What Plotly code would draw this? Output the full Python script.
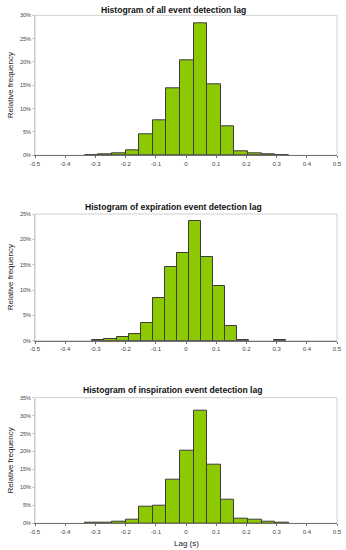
import plotly.graph_objects as go

# ---- data ----
titles = ["Histogram of all event detection lag",
          "Histogram of expiration event detection lag",
          "Histogram of inspiration event detection lag"]

all_lag = [-0.3125, -0.2675, -0.2225, -0.1775, -0.1325, -0.0875, -0.0425, 0.0025,
           0.0475, 0.0925, 0.1375, 0.1825, 0.2275, 0.2725, 0.3175]
all_freq = [0.1, 0.2, 0.4, 1.1, 4.4, 7.4, 14.3, 20.4, 28.2, 15.3, 6.3, 0.9, 0.4, 0.25, 0.1]

exp_lag = [-0.29, -0.25, -0.21, -0.17, -0.13, -0.09, -0.05, -0.01, 0.03, 0.07,
           0.11, 0.15, 0.19, 0.31]
exp_freq = [0.1, 0.33, 0.66, 1.3, 3.4, 8.4, 14.5, 17.4, 23.7, 16.6, 10.7, 2.9, 0.1, 0.06]

insp_lag = all_lag
insp_freq = [0.3, 0.2, 0.5, 0.9, 4.7, 5.0, 12.1, 20.1, 31.3, 16.2, 6.7, 1.4, 0.9, 0.5, 0.2]

x_ticks = [-0.5, -0.4, -0.3, -0.2, -0.1, 0, 0.1, 0.2, 0.3, 0.4, 0.5]
x_tick_labels = ["-0.5", "-0.4", "-0.3", "-0.2", "-0.1", "0", "0.1", "0.2", "0.3", "0.4", "0.5"]
y_max = [30, 25, 35]
bin_width = [0.045, 0.04, 0.045]

series = [(all_lag, all_freq), (exp_lag, exp_freq), (insp_lag, insp_freq)]

# ---- layout geometry (paper fractions) ----
W, H = 346, 550
x_dom = [35 / W, 337 / W]
y_px = [(15.3, 155.3), (214, 340.7), (397.7, 523.3)]
y_doms = [[(H - b) / H, (H - t) / H] for t, b in y_px]
title_y = [10, 206.5, 389.5]

FONT = "Liberation Sans, Arial, sans-serif"
BAR = "#8dc900"
EDGE = "#3c3c3c"

fig = go.Figure()
layout = dict(
    width=W, height=H, margin=dict(l=0, r=0, t=0, b=0, autoexpand=False),
    paper_bgcolor="white", plot_bgcolor="white", showlegend=False,
    font=dict(family=FONT, size=6, color="#444"),
    bargap=0,
)
annotations = []
shapes = []
for i, (xs, ys) in enumerate(series):
    n = "" if i == 0 else str(i + 1)
    fig.add_trace(go.Bar(
        x=xs, y=ys, width=bin_width[i],
        marker=dict(color=BAR, line=dict(color=EDGE, width=1)),
        xaxis="x" + n, yaxis="y" + n, hoverinfo="x+y",
    ))
    layout["xaxis" + n] = dict(
        domain=x_dom, anchor="y" + n, range=[-0.5, 0.5], automargin=False,
        tickvals=x_ticks, ticktext=x_tick_labels,
        showline=True, linecolor="#707070", linewidth=1,
        ticks="outside", ticklen=2, tickcolor="#707070",
        showgrid=False, zeroline=False,
        tickfont=dict(size=6, color="#444"),
    )
    layout["yaxis" + n] = dict(
        domain=y_doms[i], anchor="x" + n, range=[0, y_max[i]], automargin=False,
        dtick=5, ticksuffix="%",
        showline=True, linecolor="#c8c8c8", linewidth=1,
        ticks="outside", ticklen=2, tickcolor="#c8c8c8",
        showgrid=False, zeroline=False,
        tickfont=dict(size=5.5, color="#444"),
    )
    shapes.append(dict(type="rect", xref="x" + n + " domain", yref="y" + n + " domain",
                       x0=0, x1=1, y0=0, y1=1, line=dict(color="#cfcfcf", width=1),
                       layer="below"))
    annotations.append(dict(text="<b>" + titles[i] + "</b>", x=0.5,
                            y=1 - title_y[i] / H, xref="paper", yref="paper",
                            showarrow=False, xanchor="center", yanchor="middle",
                            font=dict(size=8.6, color="#111", family=FONT)))
    annotations.append(dict(text="Relative frequency", x=10 / W,
                            y=1 - (y_px[i][0] + y_px[i][1]) / 2 / H,
                            xref="paper", yref="paper", showarrow=False, textangle=-90,
                            xanchor="center", yanchor="middle",
                            font=dict(size=8, color="#222", family=FONT)))

annotations.append(dict(text="Lag (s)", x=(35 + 337) / 2 / W, y=1 - 543.5 / H,
                        xref="paper", yref="paper", showarrow=False,
                        xanchor="center", yanchor="middle",
                        font=dict(size=8, color="#222", family=FONT)))
layout["annotations"] = annotations
layout["shapes"] = shapes
fig.update_layout(**layout)
fig.write_html("out.html", config={"displayModeBar": False},
               post_script="document.body.style.margin='0';document.body.style.overflow='hidden';")
